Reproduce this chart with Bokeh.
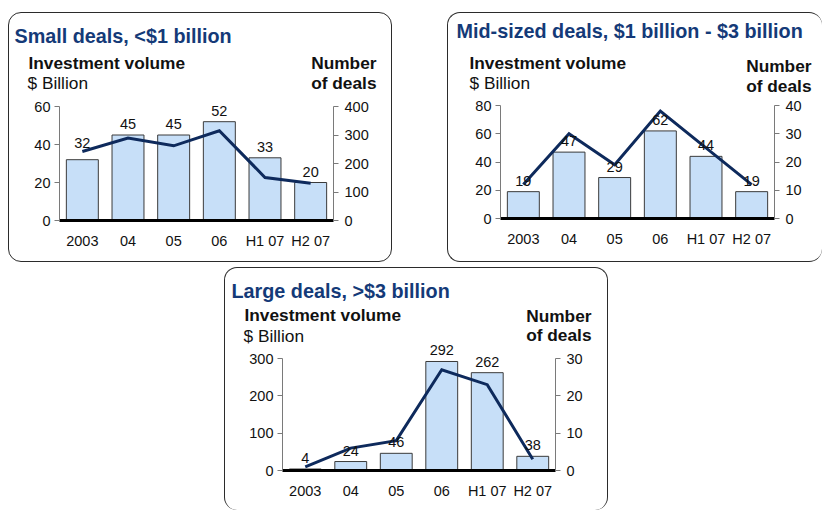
from bokeh.plotting import figure
from bokeh.models import (Range1d, LinearAxis, Label, LabelSet, Spacer,
                          ColumnDataSource, FixedTicker)
from bokeh.layouts import column, row
from bokeh.embed import file_html
from bokeh.resources import INLINE
from bokeh.core.properties import value

# ---------------- data ----------------
categories = ["2003", "04", "05", "06", "H1 07", "H2 07"]

small_volume = [32, 45, 45, 52, 33, 20]        # $ billion
small_deals = [242, 289, 262, 315, 151, 131]   # number of deals

mid_volume = [19, 47, 29, 62, 44, 19]
mid_deals = [12, 30, 19, 38, 25, 12]

large_volume = [4, 24, 46, 292, 262, 38]
large_deals = [1, 6, 8, 27, 23, 3]

small_left_ticks = [0, 20, 40, 60]
small_right_ticks = [0, 100, 200, 300, 400]
mid_left_ticks = [0, 20, 40, 60, 80]
mid_right_ticks = [0, 10, 20, 30, 40]
large_left_ticks = [0, 100, 200, 300]
large_right_ticks = [0, 10, 20, 30]

titles = ["Small deals, <$1 billion",
          "Mid-sized deals, $1 billion - $3 billion",
          "Large deals, >$3 billion"]

# ---------------- style ----------------
FONT = "Liberation Sans"
TITLE_COLOR = "#143A78"
LINE_COLOR = "#0E2A5C"
BAR_FILL = "#C7DFF8"
BAR_LINE = "#3A3A3A"
BOX_COLOR = "#2b2b2b"
AXIS_GRAY = "#7a7a7a"
TEXT = "#111111"

# extra lift (px) of individual bar value labels, to keep them clear of the line
small_label_lift = [6, 0, 0, 0, 0, 0]
no_lift = [0, 0, 0, 0, 0, 0]


def style_axis(ax, standoff):
    ax.minor_tick_line_color = None
    ax.major_label_standoff = standoff
    ax.major_label_text_font = FONT
    ax.major_label_text_font_size = "14.5px"
    ax.major_label_text_color = TEXT


def panel(title, vols, deals, lticks, rticks, w, h, geom, pos, lift, hide=None):
    # geom: pixel positions inside the box of the left axis, right axis,
    # top of the value axis and the zero line
    axl, axr, topy, zeroy = geom
    n = len(categories)
    ux = (axr - axl) / n
    uy = (zeroy - topy) / lticks[-1]
    ry = (zeroy - topy) / rticks[-1]
    p = figure(x_range=Range1d(-axl / ux, n + (w - axr) / ux),
               y_range=Range1d(-(h - zeroy) / uy, lticks[-1] + topy / uy),
               width=w, height=h, output_backend="svg", toolbar_location=None,
               x_axis_location=None, y_axis_location=None,
               min_border=0)
    p.extra_y_ranges = {"deals": Range1d(-(h - zeroy) / ry, rticks[-1] + topy / ry)}
    p.background_fill_color = None
    p.border_fill_color = None
    p.outline_line_color = None
    p.xgrid.visible = False
    p.ygrid.visible = False

    st = {"border": "1.5px solid " + BOX_COLOR, "border-radius": "13px",
          "box-sizing": "border-box"}
    if hide:
        for side in hide:
            st["border-" + side] = "none"
    p.styles = st

    centers = [i + 0.5 for i in range(n)]
    src = ColumnDataSource(dict(xc=centers, vol=vols, deals=deals,
                                lab=[str(v) for v in vols],
                                dy=[6 + d for d in lift]))
    p.vbar(x="xc", top="vol", width=0.7, source=src, fill_color=BAR_FILL,
           line_color=BAR_LINE, line_width=1)
    p.line(x="xc", y="deals", y_range_name="deals", source=src,
           line_color=LINE_COLOR, line_width=3, line_join="miter")
    p.add_layout(LabelSet(x="xc", y="vol", text="lab", source=src,
                          text_align="center", text_baseline="bottom", y_offset="dy",
                          text_font=value(FONT), text_font_size="14.5px",
                          text_color=TEXT))

    # bottom axis (category labels)
    xa = LinearAxis(fixed_location=0, bounds=(0, n),
                    ticker=FixedTicker(ticks=centers),
                    major_label_overrides={c: t for c, t in zip(centers, categories)})
    xa.axis_line_color = "black"
    xa.axis_line_width = 3
    xa.major_tick_line_color = None
    style_axis(xa, 6)
    p.add_layout(xa, "below")

    # left axis: investment volume
    ya = LinearAxis(fixed_location=0, bounds=(0, lticks[-1]),
                    ticker=FixedTicker(ticks=lticks))
    ya.axis_line_color = AXIS_GRAY
    ya.major_tick_line_color = AXIS_GRAY
    ya.major_tick_out = 5
    ya.major_tick_in = 0
    style_axis(ya, 4)
    p.add_layout(ya, "left")

    # right axis: number of deals
    ra = LinearAxis(y_range_name="deals", fixed_location=n, bounds=(0, rticks[-1]),
                    ticker=FixedTicker(ticks=rticks))
    ra.axis_line_color = AXIS_GRAY
    ra.major_tick_line_color = AXIS_GRAY
    ra.major_tick_out = 5
    ra.major_tick_in = 0
    style_axis(ra, 6)
    p.add_layout(ra, "right")

    (tx, tb), (ix, ib), (bx, bb2), (nx, nb), (ox, ob) = pos

    def lab(text, x, base, size, bold, color, align="left"):
        dx = -3 if align == "left" else -2
        p.add_layout(Label(x=x + dx, y=base - 9, x_units="canvas", y_units="canvas",
                           text=text, text_font=FONT, text_font_size=size,
                           text_font_style="bold" if bold else "normal",
                           text_color=color, text_align=align,
                           text_baseline="alphabetic"))

    lab(title, tx, tb, "19.8px", True, TITLE_COLOR)
    lab("Investment volume", ix, ib, "17.3px", True, TEXT)
    lab("$ Billion", bx, bb2, "17.3px", False, TEXT)
    lab("Number", nx, nb, "17.3px", True, TEXT, "right")
    lab("of deals", ox, ob, "17.3px", True, TEXT, "right")
    return p


p1 = panel(titles[0], small_volume, small_deals, small_left_ticks, small_right_ticks,
           384, 250, (50, 324, 93, 207),
           [(7, 30), (21, 57.5), (20, 77), (368, 57.5), (368, 77)], small_label_lift)
p2 = panel(titles[1], mid_volume, mid_deals, mid_left_ticks, mid_right_ticks,
           375, 250, (52, 326, 92, 205),
           [(10, 25), (23, 57), (23, 77), (364, 60.7), (364, 80.7)], no_lift,
           hide=["right"])
p3 = panel(titles[2], large_volume, large_deals, large_left_ticks, large_right_ticks,
           384, 243, (57, 330, 90, 202),
           [(8, 30), (21, 54.7), (20, 75.3), (367, 55.3), (367, 74.7)], no_lift,
           hide=["bottom"])

layout = column(
    Spacer(width=823, height=12),
    row(Spacer(width=8, height=250), p1, Spacer(width=55, height=250), p2),
    Spacer(width=823, height=5),
    row(Spacer(width=224, height=243), p3),
)

open("out.html", "w").write(file_html(layout, INLINE))
